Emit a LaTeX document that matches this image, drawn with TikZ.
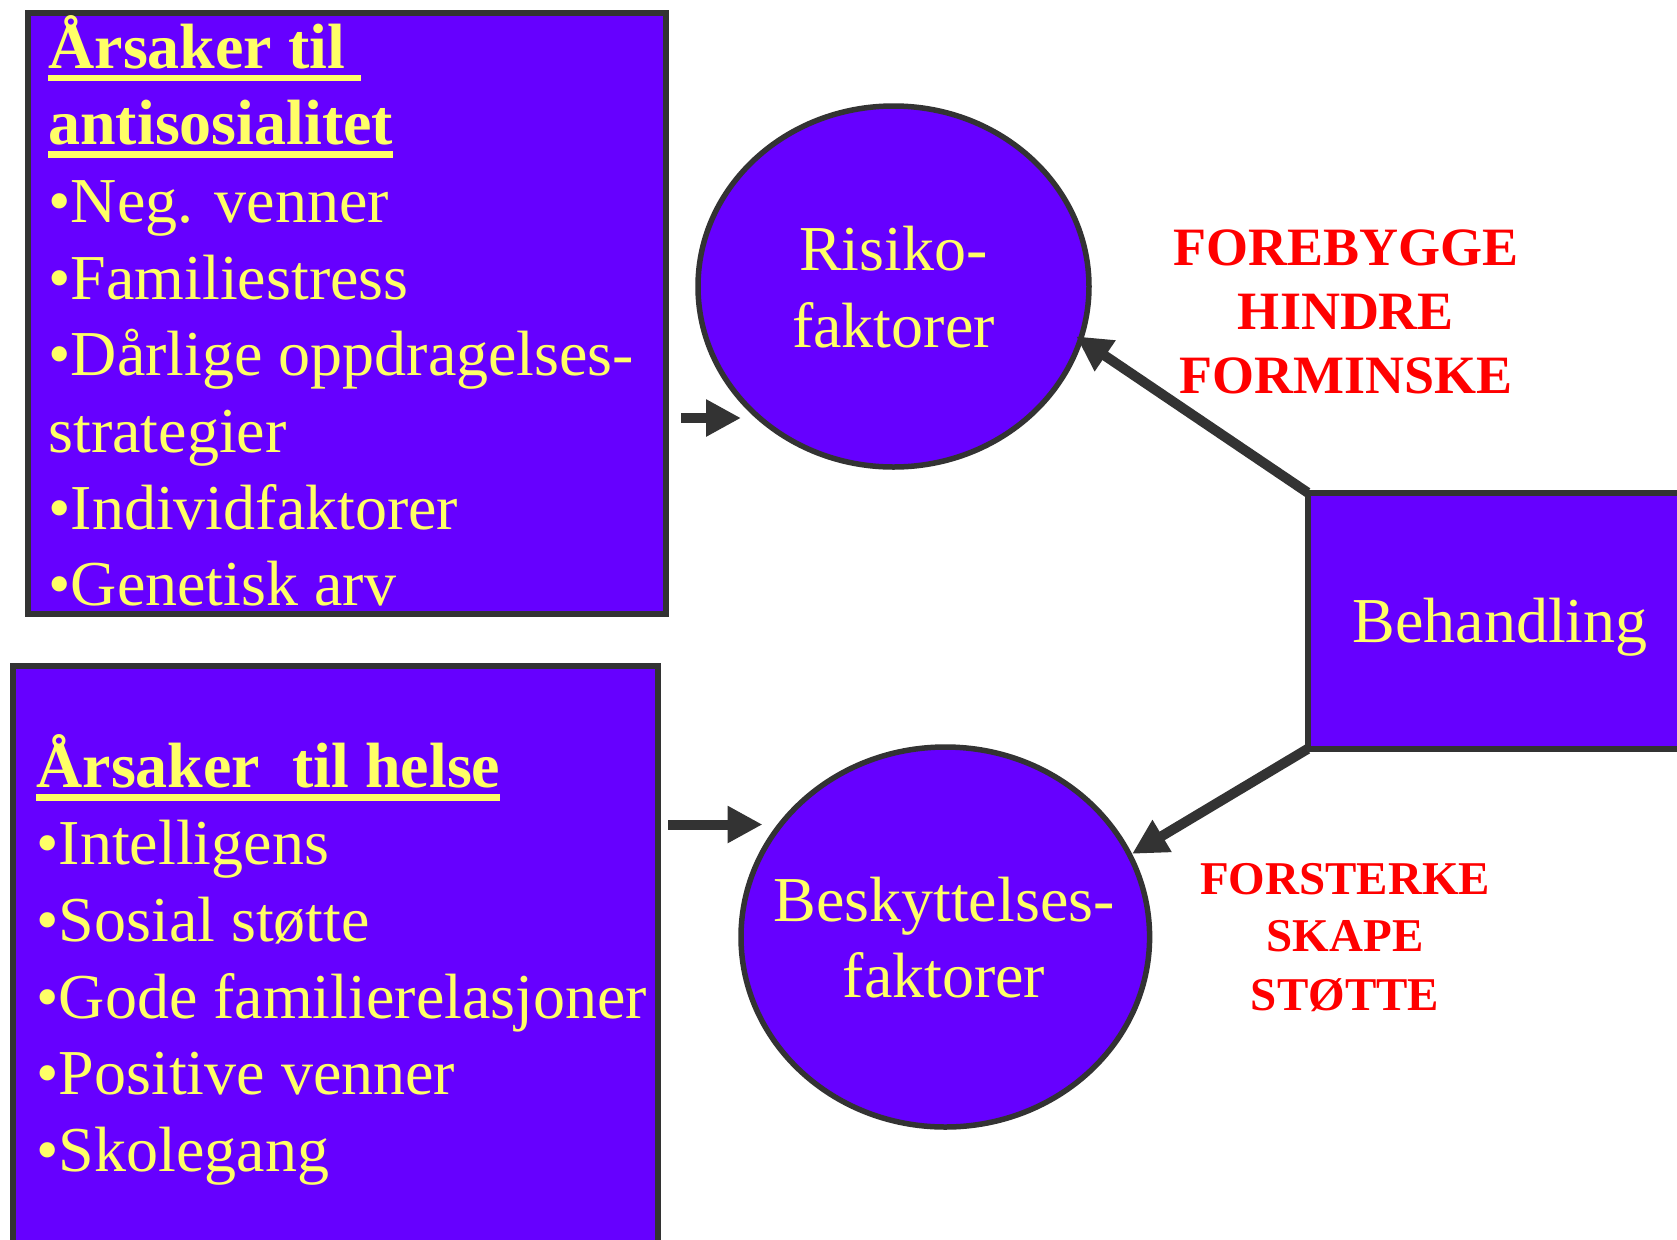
\documentclass[tikz,border=0pt]{standalone}
\usepackage{fontspec}
\setmainfont{Liberation Serif}
\usetikzlibrary{arrows.meta,shapes.geometric}
\definecolor{purp}{HTML}{6600FF}
\definecolor{yel}{HTML}{FFFF66}
\definecolor{bord}{HTML}{333333}
\definecolor{redt}{HTML}{FF0000}
\newcommand\ulhead[1]{\setbox0=\hbox{#1}\rlap{\rule[-0.2em]{\wd0}{0.105em}}\box0}
\begin{document}
\begin{tikzpicture}[x=0.5pt,y=-0.5pt,
  box/.style={rectangle,draw=bord,line width=3pt,fill=purp,inner sep=0pt,outer sep=0pt},
  oval/.style={ellipse,draw=bord,line width=2.75pt,fill=purp,inner sep=0pt},
  ytxt/.style={text=yel,font=\fontsize{32pt}{38pt}\selectfont,inner sep=0pt,anchor=base west},
  yhead/.style={ytxt,font=\fontsize{32pt}{38pt}\selectfont\bfseries},
  ycen/.style={ytxt,anchor=base},
  rtxt/.style={text=redt,font=\fontsize{27pt}{32pt}\selectfont\bfseries,inner sep=0pt,anchor=base},
  rtxtb/.style={rtxt,font=\fontsize{23.5pt}{28pt}\selectfont\bfseries},
  arr/.style={draw=bord,line width=5pt,-{Triangle[length=17.5pt,width=17.5pt]}}
]
\clip (0,0) rectangle (1677,1239);
\fill[white] (0,0) rectangle (1677,1239);

% boxes
\node[box,minimum width=319.25pt,minimum height=300.6pt] (antibox) at (346.75,313.4) {};
\node[box,minimum width=322.5pt,minimum height=317pt] (helsebox) at (335.5,983) {};
\node[box,minimum width=206.25pt,minimum height=128.25pt] (beh) at (1513.75,620.75) {};

% ovals
\node[oval,minimum width=195.5pt,minimum height=180.5pt] (risk) at (893.5,286.5) {};
\node[oval,minimum width=204.3pt,minimum height=190pt] (besk) at (945.3,937) {};

% top box text
\node[yhead] (a0) at (48,68.6) {\ulhead{Årsaker til\ }};
\node[yhead] (a1) at (48,144.9) {\ulhead{antisosialitet}};
\node[ytxt] (a2) at (48,222.4) {•Neg. venner};
\node[ytxt] (a3) at (48,299) {•Familiestress};
\node[ytxt] (a4) at (48,375.5) {•Dårlige oppdragelses-};
\node[ytxt] (a5) at (48,452) {strategier};
\node[ytxt] (a6) at (48,529) {•Individfaktorer};
\node[ytxt] (a7) at (48,605.3) {•Genetisk arv};

% bottom box text
\node[yhead] (h0) at (36,787.8) {\ulhead{Årsaker\ \ til helse}};
\node[ytxt] (h1) at (36,864.6) {•Intelligens};
\node[ytxt] (h2) at (36,941.8) {•Sosial støtte};
\node[ytxt] (h3) at (36,1018) {•Gode familierelasjoner};
\node[ytxt] (h4) at (36,1094.5) {•Positive venner};
\node[ytxt] (h5) at (36,1171.7) {•Skolegang};

% oval texts
\node[ycen] (r1) at (893.5,270) {Risiko-};
\node[ycen] (r2) at (893.5,347) {faktorer};
\node[ycen] (b1) at (944,921) {Beskyttelses-};
\node[ycen] (b2) at (944,997) {faktorer};
\node[ycen] (bt) at (1500,642) {Behandling};

% red texts
\node[rtxt] (f1) at (1346,265) {FOREBYGGE};
\node[rtxt] (f2) at (1346,329) {HINDRE};
\node[rtxt] (f3) at (1346,393) {FORMINSKE};
\node[rtxtb] (s1) at (1345,894) {FORSTERKE};
\node[rtxtb] (s2) at (1345,951.5) {SKAPE};
\node[rtxtb] (s3) at (1345,1010) {STØTTE};

% arrows
\coordinate (ua) at (681,418);
\coordinate (ut) at (741,418);
\coordinate (la) at (668,824.5);
\coordinate (lt) at (762.5,824.5);
\draw[arr] (ua) -- (ut);
\draw[arr] (la) -- (lt);
\draw[arr,shorten >=-4pt] (beh.north west) -- (risk.-16);
\draw[arr] (beh.south west) -- (besk.24);
\end{tikzpicture}
\end{document}
